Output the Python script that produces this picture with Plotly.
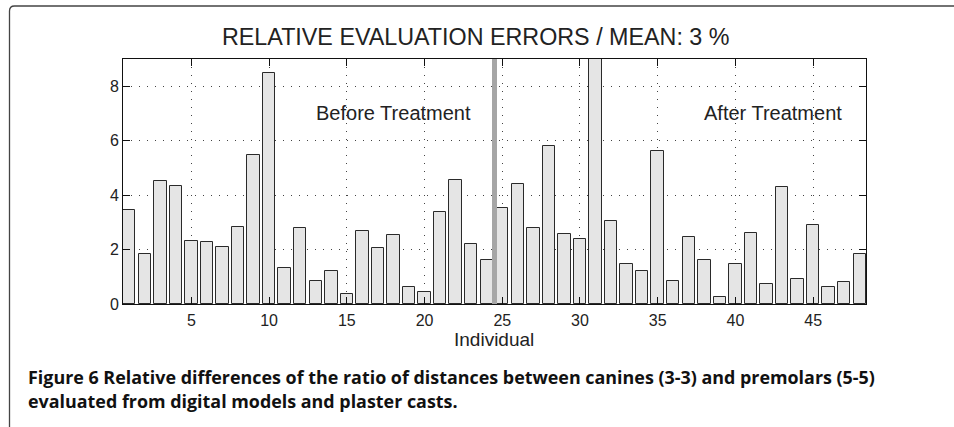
import plotly.graph_objects as go

individuals = list(range(1, 49))
errors = [3.44, 1.84, 4.52, 4.35, 2.30, 2.27, 2.10, 2.84, 5.48, 8.49,
          1.31, 2.81, 0.83, 1.21, 0.38, 2.67, 2.05, 2.52, 0.64, 0.43,
          3.39, 4.55, 2.19, 1.61, 3.53, 4.39, 2.78, 5.81, 2.56, 2.38,
          10.0, 3.06, 1.46, 1.20, 5.63, 0.86, 2.45, 1.61, 0.26, 1.46,
          2.62, 0.72, 4.29, 0.91, 2.90, 0.61, 0.81, 1.85]
x_ticks = [5, 10, 15, 20, 25, 30, 35, 40, 45]
y_ticks = [0, 2, 4, 6, 8]
title_text = "RELATIVE EVALUATION ERRORS / MEAN: 3 %"
x_label = "Individual"
group_labels = ["Before Treatment", "After Treatment"]
group_label_x = [18, 42.4]
group_label_y = 7
split_x = 24.5
caption_lines = [
    "Figure 6 Relative differences of the ratio of distances between canines (3-3) and premolars (5-5)",
    "evaluated from digital models and plaster casts.",
]

W, H = 954, 427
ML, MR, MT, MB = 123, 88, 59, 123
PW = W - ML - MR
PH = H - MT - MB


def px(x):
    return (x - ML) / PW


def py(y):
    return (H - MB - y) / PH


FONT = "Liberation Sans, Arial, sans-serif"

fig = go.Figure()
fig.add_trace(go.Bar(
    x=individuals, y=errors, width=0.8,
    marker=dict(color="#e5e5e5", line=dict(color="#2a2a2a", width=1)),
    showlegend=False,
))

fig.add_shape(type="line", xref="x", yref="y", x0=split_x, x1=split_x, y0=0, y1=9,
              line=dict(color="#a6a6a6", width=5), layer="above")

for lbl, gx in zip(group_labels, group_label_x):
    fig.add_annotation(x=gx, y=group_label_y, xref="x", yref="y", text=lbl,
                       showarrow=False, font=dict(family=FONT, size=20, color="#222"))

fig.add_annotation(x=px(475.5), y=py(37), xref="paper", yref="paper", text=title_text,
                   showarrow=False, font=dict(family=FONT, size=23.3, color="#222"),
                   xanchor="center", yanchor="middle")
fig.add_annotation(x=px(494), y=py(339), xref="paper", yref="paper", text=x_label,
                   showarrow=False, font=dict(family=FONT, size=19, color="#222"),
                   xanchor="center", yanchor="middle")

cap_y = [377, 401]
for line, cy in zip(caption_lines, cap_y):
    fig.add_annotation(x=px(26), y=py(cy), xref="paper", yref="paper",
                       text="<b>" + line + "</b>", showarrow=False,
                       font=dict(family="Open Sans, sans-serif", size=17.9, color="#111"),
                       xanchor="left", yanchor="middle")

# rounded frame (top-left corner), open to the right and bottom
x0, y0, r = 9.5, 6, 5
path = (f"M {px(x0)},{py(H + 5)} L {px(x0)},{py(y0 + r)} "
        f"Q {px(x0)},{py(y0)} {px(x0 + r)},{py(y0)} L {px(W + 5)},{py(y0)}")
fig.add_shape(type="path", xref="paper", yref="paper", path=path,
              line=dict(color="#444", width=1.3))

axis_common = dict(
    showline=True, linecolor="#111", linewidth=1, mirror="ticks",
    ticks="inside", ticklen=7, tickcolor="#111",
    showgrid=True, gridcolor="#444", griddash="1px,7px", gridwidth=1,
    zeroline=False, tickfont=dict(family=FONT, size=16, color="#222"),
)

fig.update_xaxes(range=[0.6, 48.4], tickvals=x_ticks, ticklabelstandoff=2, **axis_common)
fig.update_yaxes(range=[0, 9], tickvals=y_ticks, **axis_common)

fig.update_layout(
    width=W, height=H,
    margin=dict(l=ML, r=MR, t=MT, b=MB),
    paper_bgcolor="white", plot_bgcolor="white",
    bargap=0,
)

fig.write_html("out.html", config={"displayModeBar": False},
               post_script="document.body.style.margin='0';")
